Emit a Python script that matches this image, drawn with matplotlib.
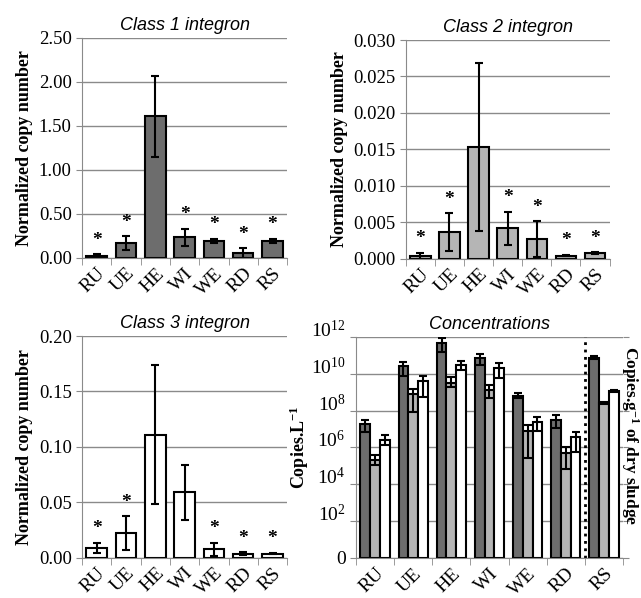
import numpy as np
import matplotlib
matplotlib.use("Agg")
import matplotlib.pyplot as plt
from matplotlib.ticker import FixedLocator, FuncFormatter

plt.rcParams['font.family'] = ['Liberation Serif', 'DejaVu Serif']
plt.rcParams['mathtext.fontset'] = 'custom'
plt.rcParams['mathtext.rm'] = 'Liberation Serif'
plt.rcParams['mathtext.bf'] = 'Liberation Serif:bold'

sites = ["RU", "UE", "HE", "WI", "WE", "RD", "RS"]

# Class 1 integron: mean, lower and upper error bounds
int1 = [0.027, 0.173, 1.61, 0.24, 0.189, 0.055, 0.189]
int1_lo = [0.015, 0.086, 1.15, 0.134, 0.166, 0.005, 0.168]
int1_hi = [0.040, 0.248, 2.07, 0.33, 0.220, 0.110, 0.220]
int1_star = [True, True, False, True, True, True, True]

# Class 2 integron
int2 = [0.00037, 0.0036, 0.01534, 0.00416, 0.00265, 0.00041, 0.00078]
int2_lo = [0.0, 0.0010, 0.0038, 0.00188, 0.0002, 0.00031, 0.00068]
int2_hi = [0.00082, 0.0062, 0.02685, 0.0064, 0.00516, 0.00051, 0.00088]
int2_star = [True, True, False, True, True, True, True]

# Class 3 integron
int3 = [0.009, 0.0221, 0.1105, 0.0589, 0.0077, 0.0036, 0.0036]
int3_lo = [0.0045, 0.0072, 0.048, 0.0342, 0.0017, 0.0024, 0.0030]
int3_hi = [0.0131, 0.0374, 0.1736, 0.0832, 0.0131, 0.0048, 0.0042]
int3_star = [True, True, False, False, True, True, True]

# Concentrations (log10 copies): class 1, class 2, class 3
conc1 = [7.26, 10.42, 11.69, 10.87, 8.81, 7.49, 10.87]
conc1_lo = [6.86, 9.88, 11.20, 10.48, 8.67, 7.07, 10.80]
conc1_hi = [7.49, 10.66, 11.93, 11.07, 8.98, 7.76, 10.94]
conc2 = [5.32, 8.89, 9.52, 9.12, 6.91, 5.72, 8.40]
conc2_lo = [5.05, 7.94, 9.27, 8.67, 5.41, 4.82, 8.35]
conc2_hi = [5.59, 9.16, 9.81, 9.39, 7.22, 6.04, 8.45]
conc3 = [6.41, 9.63, 10.48, 10.33, 7.37, 6.55, 9.08]
conc3_lo = [6.13, 8.72, 10.21, 9.75, 6.91, 5.77, 9.03]
conc3_hi = [6.68, 9.88, 10.69, 10.60, 7.64, 6.86, 9.13]

dark = "#6d6d6d"
light = "#b5b5b5"
white = "#ffffff"
gridc = "#8a8a8a"

fig = plt.figure(figsize=(6.41, 5.98), dpi=100)

def style_axes(ax):
    ax.spines['top'].set_visible(False)
    ax.spines['right'].set_visible(False)
    ax.spines['left'].set_color(gridc)
    ax.spines['bottom'].set_color(gridc)
    ax.set_axisbelow(True)
    ax.yaxis.grid(True, color=gridc, linewidth=1)
    ax.set_xlim(-0.5, len(sites) - 0.5)
    ax.set_xticks(np.arange(len(sites)))
    ax.set_xticklabels(sites, rotation=45, fontsize=14)
    ax.set_xticks(np.arange(len(sites) + 1) - 0.5, minor=True)
    ax.tick_params(axis='x', which='major', length=0, pad=5)
    ax.tick_params(axis='x', which='minor', length=5, color=gridc)
    ax.tick_params(axis='y', length=4, color=gridc, labelsize=13.5)
    for lab in ax.get_xticklabels():
        lab.set_ha('right')
        lab.set_rotation_mode('anchor')


def norm_panel(rect, vals, lo, hi, stars, color, ymax, step, fmt, title):
    ax = fig.add_axes(rect)
    x = np.arange(len(sites))
    vals = np.array(vals)
    yerr = [vals - np.array(lo), np.array(hi) - vals]
    ax.bar(x, vals, width=0.7, color=color, edgecolor='black', linewidth=1.5)
    ax.errorbar(x, vals, yerr=yerr, fmt='none', ecolor='black', elinewidth=1.5,
                capsize=3, capthick=1.5)
    for xi, h, s in zip(x, hi, stars):
        if s:
            ax.annotate("*", (xi, h), xytext=(0, 4), textcoords='offset points',
                        ha='center', va='bottom', fontsize=14, fontweight='bold')
    ax.set_ylim(0, ymax)
    ax.set_yticks(np.arange(0, ymax + step / 2, step))
    ax.yaxis.set_major_formatter(FuncFormatter(lambda v, p: fmt % v))
    style_axes(ax)
    ax.set_ylabel("Normalized copy number", fontsize=13, fontweight='bold', labelpad=4)
    ax.set_title(title, fontsize=13, style='italic', family='Liberation Sans', pad=6)
    return ax


norm_panel([0.128, 0.5686, 0.320, 0.368], int1, int1_lo, int1_hi, int1_star,
           dark, 2.5, 0.5, "%.2f", "Class 1 integron")
norm_panel([0.633, 0.5674, 0.318, 0.3657], int2, int2_lo, int2_hi, int2_star,
           light, 0.030, 0.005, "%.3f", "Class 2 integron")
norm_panel([0.128, 0.0677, 0.320, 0.3704], int3, int3_lo, int3_hi, int3_star,
           white, 0.20, 0.05, "%.2f", "Class 3 integron")

# Concentrations panel
ax = fig.add_axes([0.5554, 0.0669, 0.4165, 0.3696])
x = np.arange(len(sites))
bw = 0.255
for off, m, lo, hi, c in [(-bw, conc1, conc1_lo, conc1_hi, dark),
                          (0, conc2, conc2_lo, conc2_hi, light),
                          (bw, conc3, conc3_lo, conc3_hi, white)]:
    v = 10 ** np.array(m)
    vlo = 10 ** np.array(lo)
    vhi = 10 ** np.array(hi)
    ax.bar(x + off, v - 1, bottom=1, width=bw, color=c, edgecolor='black', linewidth=1.5)
    ax.errorbar(x + off, v, yerr=[v - vlo, vhi - v], fmt='none', ecolor='black',
                elinewidth=1.5, capsize=3, capthick=1.5)
ax.set_yscale('log')
ax.set_ylim(1, 1e12)
exps = np.arange(0, 13, 2)
ax.yaxis.set_major_locator(FixedLocator(10.0 ** exps))
ax.yaxis.set_minor_locator(FixedLocator([]))
ax.yaxis.set_major_formatter(FuncFormatter(
    lambda v, p: "0" if v <= 1 else r"$\mathregular{10^{%d}}$" % round(np.log10(v))))
style_axes(ax)
ax.tick_params(axis='y', right=True, labelright=False, direction='out', labelsize=14)
for t in ax.yaxis.get_major_ticks()[1:]:
    t.label1.set_va('baseline')
ax.axvline(5.5, color='black', linestyle=':', linewidth=2)
ax.set_ylabel(r"Copies.L$\mathbf{^{-1}}$", fontsize=13, fontweight='bold', labelpad=0)
fig.text(630 / 641, 1 - 436 / 598, r"Copies.g$\mathbf{^{-1}}$ of dry sludge",
         rotation=-90, ha='center', va='center', fontsize=12.5, fontweight='bold')
ax.set_title("Concentrations", fontsize=13, style='italic', family='Liberation Sans', pad=6)

fig.savefig("out.png", dpi=100)
